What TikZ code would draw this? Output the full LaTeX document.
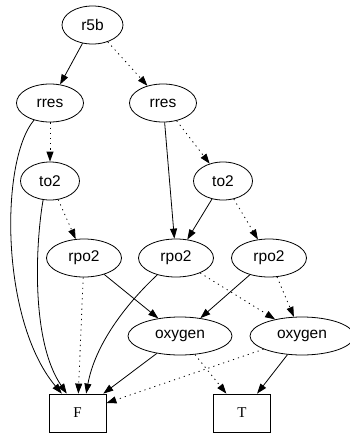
\documentclass[tikz,border=0pt]{standalone}
\usepackage{fontspec}
\setmainfont{Liberation Serif}
\setsansfont{Liberation Sans}
\usetikzlibrary{arrows.meta,shapes.geometric}

\begin{document}
\begin{tikzpicture}[x=1pt,y=-1pt]
              \tikzstyle{every node}+=[inner sep=0pt]
              \tikzstyle{var}=[draw,ellipse,line width=0.8pt,minimum height=38pt,font=\sffamily\fontsize{15.5}{18}\selectfont]
              \tikzstyle{leaf}=[draw,rectangle,line width=0.8pt,minimum width=57pt,minimum height=38pt,font=\fontsize{15}{18}\selectfont]
              \tikzstyle{hi}=[-{Triangle[length=10pt,width=7pt]},line width=0.8pt]
              \tikzstyle{lo}=[hi,dash pattern=on 1.2pt off 4pt]
              \useasboundingbox (0,0) rectangle (350,434);
              \node [var,minimum width=61pt] (r5b) at (92.5,25) {r5b};
              \node [var,minimum width=67pt] (rresL) at (50,103) {rres};
              \node [var,minimum width=67pt] (rresR) at (163,103) {rres};
              \node [var,minimum width=59pt] (to2L) at (50,181) {to2};
              \node [var,minimum width=59pt] (to2R) at (223,181) {to2};
              \node [var,minimum width=75pt] (rpo2L) at (84,258) {rpo2};
              \node [var,minimum width=75pt] (rpo2M) at (176,258) {rpo2};
              \node [var,minimum width=75pt] (rpo2R) at (269,258) {rpo2};
              \node [var,minimum width=104pt] (oxyL) at (180,336) {oxygen};
              \node [var,minimum width=104pt] (oxyR) at (302,336) {oxygen};
              \node [leaf] (F) at (77.5,413) {F};
              \node [leaf] (T) at (242,413) {T};
              \draw [hi] (r5b) -- (rresL);
              \draw [lo] (r5b) -- (rresR);
              \draw [lo] (rresL) -- (to2L);
              \draw [hi] (rresL.227) .. controls (0,160) and (0,320) .. (F.129);
              \draw [hi] (to2L.250) .. controls (36,240) and (30,340) .. (F.119);
              \draw [lo] (to2L) -- (rpo2L);
              \draw [hi] (rresR) -- (rpo2M);
              \draw [lo] (rresR) -- (to2R);
              \draw [hi] (to2R) -- (rpo2M);
              \draw [lo] (to2R) -- (rpo2R);
              \draw [lo] (rpo2L) -- (F);
              \draw [hi] (rpo2L) -- (oxyL);
              \draw [hi] (rpo2M.222) .. controls (125,305) and (95,345) .. (F.66);
              \draw [lo] (rpo2M) -- (oxyR);
              \draw [hi] (rpo2R) -- (oxyL);
              \draw [lo] (rpo2R) -- (oxyR);
              \draw [hi] (oxyL) -- (F);
              \draw [lo] (oxyL) -- (T);
              \draw [lo] (oxyR) -- (F);
              \draw [hi] (oxyR) -- (T);
\end{tikzpicture}
\end{document}
